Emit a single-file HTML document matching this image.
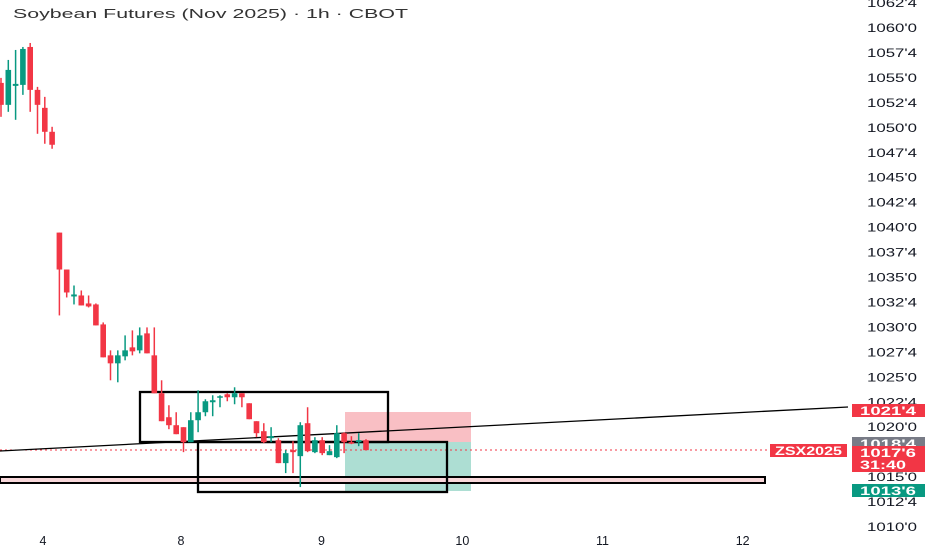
<!DOCTYPE html>
<html><head><meta charset="utf-8"><style>
html,body{margin:0;padding:0;background:#fff;}
svg{display:block;font-family:"Liberation Sans",sans-serif;}
</style></head><body>
<svg id="chart" width="932" height="550" viewBox="0 0 932 550" xmlns="http://www.w3.org/2000/svg">
<rect width="932" height="550" fill="#fff"/>
<text x="13" y="18" font-size="13" fill="#333" textLength="395" lengthAdjust="spacingAndGlyphs">Soybean Futures (Nov 2025) · 1h · CBOT</text>
<g id="drawings"></g>
<g id="candles"></g>
<g id="yaxis"></g>
<g id="xaxis"></g>
<g id="labels"></g>
</svg>
<script>
const opens=[1054.5,1052.3,1054.2,1054.3,1058.1,1053.8,1052.0,1049.6,1039.5,1035.8,1033.1,1033.2,1032.4,1032.3,1030.3,1027.2,1026.4,1027.1,1028.0,1027.7,1029.4,1027.2,1023.4,1021.0,1020.2,1020.0,1018.5,1020.7,1021.5,1022.5,1023.0,1023.3,1023.0,1023.4,1022.4,1020.6,1019.6,1018.9,1018.7,1016.4,1017.7,1017.1,1020.4,1017.5,1018.7,1017.2,1017.0,1019.4,1018.5,1018.5,1018.7];
const highs=[1055.0,1056.8,1057.8,1058.1,1058.5,1054.1,1053.1,1050.1,1039.5,1035.8,1034.2,1033.7,1033.2,1032.4,1030.5,1027.7,1027.7,1029.2,1029.7,1030.0,1030.0,1030.0,1024.7,1022.2,1021.5,1020.0,1021.5,1023.7,1022.8,1023.2,1023.2,1023.4,1024.0,1023.4,1022.4,1020.6,1020.4,1020.0,1018.9,1017.7,1018.6,1020.5,1022.0,1019.0,1019.0,1018.2,1020.2,1019.5,1019.1,1019.4,1018.8];
const lows=[1051.1,1051.6,1050.8,1053.3,1051.6,1049.4,1048.4,1047.9,1031.2,1033.0,1032.3,1032.2,1032.0,1030.2,1027.0,1024.7,1024.5,1026.7,1027.2,1027.4,1027.4,1023.4,1020.6,1019.8,1019.3,1017.5,1018.5,1019.5,1021.1,1021.1,1022.0,1022.6,1022.3,1022.0,1020.8,1019.0,1018.4,1018.5,1016.4,1015.4,1015.4,1014.0,1017.5,1017.4,1017.2,1017.2,1016.9,1017.4,1018.3,1018.1,1017.7];
const closes=[1052.3,1055.8,1054.4,1057.9,1053.8,1052.3,1049.6,1048.3,1035.8,1033.5,1033.3,1032.2,1032.1,1030.2,1027.0,1026.4,1027.2,1027.7,1027.6,1029.2,1027.4,1023.4,1020.6,1020.2,1019.3,1018.5,1020.7,1021.5,1022.6,1022.7,1023.1,1023.0,1023.4,1023.0,1020.8,1019.4,1018.5,1019.1,1016.4,1017.4,1017.5,1020.2,1017.6,1018.7,1017.4,1017.6,1019.4,1018.5,1018.4,1018.7,1017.7];
const priceTicks=[1062.5,1060,1057.5,1055,1052.5,1050,1047.5,1045,1042.5,1040,1037.5,1035,1032.5,1030,1027.5,1025,1022.5,1020,1015,1012.5,1010];
const timeLabels=["4","8","9","10","11","12"];
const timeIdx=[5.75,24.65,43.9,63.2,82.4,101.6];

const NS="http://www.w3.org/2000/svg";
function yS(p){return 28+(1060-p)*9.98;}
function xS(i){return 1+i*7.3;}
function fmt(p){const w=Math.floor(p+1e-6);const f=Math.round((p-w)*8);return w+"'"+f;}
function mk(parent,tag,attrs){const e=document.createElementNS(NS,tag);for(const k in attrs)e.setAttribute(k,attrs[k]);parent.appendChild(e);return e;}

const dg=document.getElementById('drawings');
let e;
e=mk(dg,'rect',{x:345,y:412,width:126,height:30,fill:'#f7a9b0',opacity:0.75});


e=mk(dg,'rect',{x:345,y:442,width:126,height:49,fill:'#9fd8cb',opacity:0.85});


e=mk(dg,'line',{x1:0,y1:450,x2:770,y2:450,stroke:'#f23645','stroke-width':1,'stroke-dasharray':'2,3'});


e=mk(dg,'rect',{x:0,y:477,width:765,height:6,fill:'#f8d7da',stroke:'#000','stroke-width':2});


e=mk(dg,'rect',{x:140,y:392,width:248,height:50,fill:'none',stroke:'#000','stroke-width':2.3});


e=mk(dg,'rect',{x:198,y:442,width:249,height:50,fill:'none',stroke:'#000','stroke-width':2.3});


e=mk(dg,'line',{x1:0,y1:451,x2:848,y2:407,stroke:'#000','stroke-width':1.3});



const cg=document.getElementById('candles');
for(let i=0;i<opens.length;i++){
  const up=closes[i]>=opens[i];const col=up?'#089981':'#f23645';
  const x=xS(i);
  const g=mk(cg,'g',{});
  
  
  mk(g,'line',{x1:x,y1:yS(highs[i]),x2:x,y2:yS(lows[i]),stroke:col,'stroke-width':1.5});
  const t=yS(Math.max(opens[i],closes[i])),b=yS(Math.min(opens[i],closes[i]));
  mk(g,'rect',{x:x-2.8,y:t,width:5.6,height:Math.max(1.5,b-t),fill:col});
}

const ya=document.getElementById('yaxis');
for(const p of priceTicks){
  const t=mk(ya,'text',{x:867,y:yS(p)+4,'font-size':11.5,fill:'#131722',textLength:50,lengthAdjust:'spacingAndGlyphs'});
  t.textContent=fmt(p);
  
  
}
const xa=document.getElementById('xaxis');
for(let i=0;i<timeLabels.length;i++){
  const t=mk(xa,'text',{x:xS(timeIdx[i]),y:545,'font-size':12.5,'text-anchor':'middle',fill:'#131722'});
  t.textContent=timeLabels[i];
  
  
}

const lg=document.getElementById('labels');
function tag(y1,h,bg,lines,name){
  const g=mk(lg,'g',{});
  
  
  mk(g,'rect',{x:852,y:y1,width:73,height:h,fill:bg});
  lines.forEach((s,k)=>{const t=mk(g,'text',{x:860,y:y1+11+k*12,'font-size':11.5,'font-weight':'bold',fill:'#fff',textLength:s.length>5?56:46,lengthAdjust:'spacingAndGlyphs'});t.textContent=s;});
}
tag(404,13,'#f23645',['1021\'4'],'target-price-label');
tag(437,10,'#787b86',['1018\'4'],'prev-close-label');
tag(446,26,'#f23645',['1017\'6','31:40'],'last-price-label');
tag(484,13,'#089981',['1013\'6'],'stop-price-label');
const sym=mk(lg,'g',{});


mk(sym,'rect',{x:770,y:444,width:77,height:13,fill:'#f23645'});
const st=mk(sym,'text',{x:775,y:455,'font-size':11.5,'font-weight':'bold',fill:'#fff',textLength:67,lengthAdjust:'spacingAndGlyphs'});
st.textContent='ZSX2025';
</script>
</body></html>
